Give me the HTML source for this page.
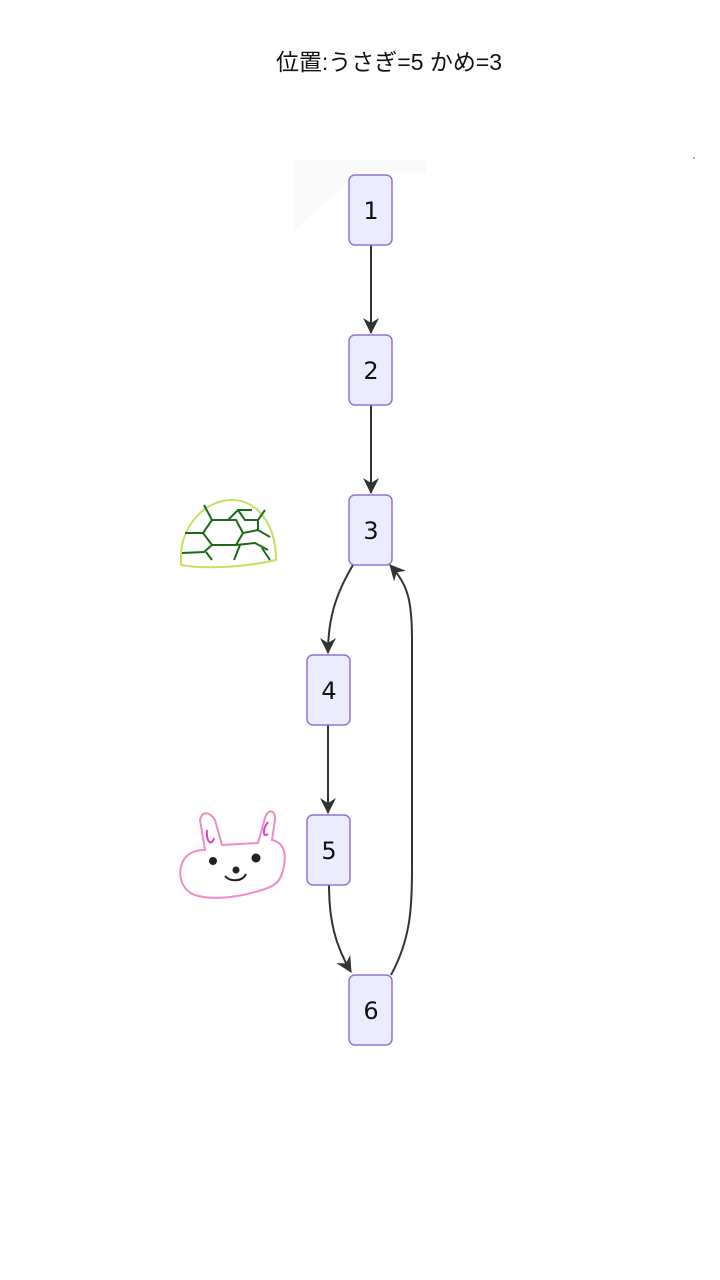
<!DOCTYPE html>
<html><head><meta charset="utf-8"><style>
html,body{margin:0;padding:0;background:#fff;width:720px;height:1280px;overflow:hidden}
svg{display:block}
.n{fill:#ECECFF;stroke:#9370DB;stroke-width:1.5}
.t{font-family:"DejaVu Sans","Liberation Sans",sans-serif;font-size:24px;fill:#111;text-anchor:middle}
.e{fill:none;stroke:#333;stroke-width:2}
</style></head><body>
<svg width="720" height="1280" viewBox="0 0 720 1280">
<defs><marker id="a" viewBox="0 0 16 16" refX="15" refY="8" markerWidth="16" markerHeight="16" orient="auto" markerUnits="userSpaceOnUse"><path d="M0,0 L16,8 L0,16 L5,8 Z" fill="#333"/></marker></defs>
<text x="389" y="70" font-family="'Liberation Sans','Noto Sans CJK JP',sans-serif" font-size="23" text-anchor="middle" fill="#111">位置:うさぎ=5 かめ=3</text>
<polygon points="294,160 426,160 426,172 360,172 294,230" fill="#fafafa"/>
<path class="e" d="M371,245 V333" marker-end="url(#a)"/>
<path class="e" d="M371,405 V493" marker-end="url(#a)"/>
<path class="e" d="M353,565 C335,595 328,620 328,653" marker-end="url(#a)"/>
<path class="e" d="M328,725 V813" marker-end="url(#a)"/>
<path class="e" d="M329,885 C329,920 335,945 351,972" marker-end="url(#a)"/>
<path class="e" d="M391,975 C410,940 412,910 412,870 V640 C412,600 408,585 390,565" marker-end="url(#a)"/>
<rect class="n" x="349" y="175" width="43" height="70" rx="6"/><text class="t" x="371" y="219">1</text>
<rect class="n" x="349" y="335" width="43" height="70" rx="6"/><text class="t" x="371" y="379">2</text>
<rect class="n" x="349" y="495" width="43" height="70" rx="6"/><text class="t" x="371" y="539">3</text>
<rect class="n" x="307" y="655" width="43" height="70" rx="6"/><text class="t" x="329" y="699">4</text>
<rect class="n" x="307" y="815" width="43" height="70" rx="6"/><text class="t" x="329" y="859">5</text>
<rect class="n" x="349" y="975" width="43" height="70" rx="6"/><text class="t" x="371" y="1019">6</text>
<path d="M181,555 C182,525 205,500 232,500 C258,500 276,525 276,560 C250,566 210,570 181,565 Z" fill="none" stroke="#c5e063" stroke-width="2"/>
<g stroke="#1a6b1a" stroke-width="2" fill="none">
<path d="M204,505 L212,520 L228,520 L238,510 L252,510"/>
<path d="M212,520 L203,533 L212,545 L236,545 L243,533 L236,520 Z"/>
<path d="M185,533 L203,533"/><path d="M243,533 L258,530 L270,537"/>
<path d="M238,510 L245,520 L258,520 L265,510"/><path d="M258,520 L258,530"/>
<path d="M182,553 L204,552 L212,545"/><path d="M206,552 L212,560"/>
<path d="M236,545 L255,543 L268,550"/><path d="M240,545 L234,560"/><path d="M262,548 L270,560"/>
</g>
<path d="M205,850 L200,820 C202,810 210,812 215,820 L222,845 L258,843 L265,818 C268,808 276,810 275,820 L272,840 C285,843 287,855 283,870 C280,885 270,888 255,892 C235,898 210,900 195,895 C180,890 176,870 185,858 C190,852 198,850 205,850 Z" fill="none" stroke="#f08cc8" stroke-width="2"/>
<path d="M207,830 C206,843 212,846 214,838" stroke="#e040c8" stroke-width="2" fill="none"/>
<path d="M268,822 C262,830 263,838 268,834" stroke="#e040c8" stroke-width="2" fill="none"/>
<circle cx="213" cy="861" r="4" fill="#222"/><circle cx="256" cy="858" r="4.5" fill="#222"/>
<circle cx="236" cy="870" r="3.5" fill="#222"/>
<path d="M225,876 C230,882 242,882 246,874" stroke="#222" stroke-width="2" fill="none"/>
<circle cx="694" cy="158" r="0.8" fill="#555"/>
</svg>
</body></html>
